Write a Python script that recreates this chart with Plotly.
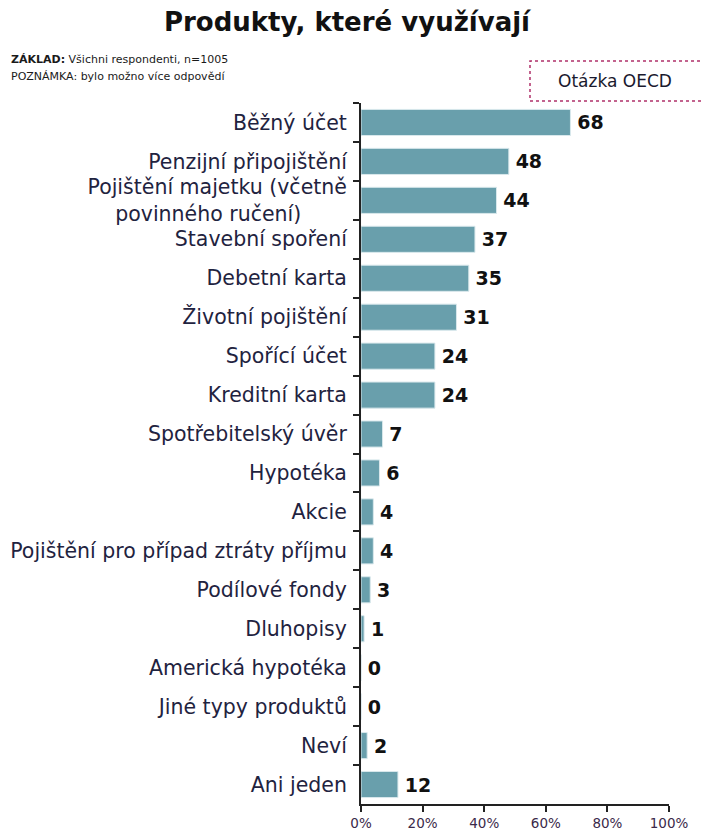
import plotly.graph_objects as go

# Products used by respondents (share in %, multiple answers allowed)
categories = [
    "Běžný účet",
    "Penzijní připojištění",
    "Pojištění majetku (včetně<br>\u00a0\u00a0\u00a0\u00a0\u00a0\u00a0\u00a0\u00a0povinného ručení)\u00a0\u00a0\u00a0\u00a0\u00a0\u00a0\u00a0",
    "Stavební spoření",
    "Debetní karta",
    "Životní pojištění",
    "Spořící účet",
    "Kreditní karta",
    "Spotřebitelský úvěr",
    "Hypotéka",
    "Akcie",
    "Pojištění pro případ ztráty příjmu",
    "Podílové fondy",
    "Dluhopisy",
    "Americká hypotéka",
    "Jiné typy produktů",
    "Neví",
    "Ani jeden",
]
values = [68, 48, 44, 37, 35, 31, 24, 24, 7, 6, 4, 4, 3, 1, 0, 0, 2, 12]
x_ticks = [0, 20, 40, 60, 80, 100]
x_tick_labels = ["0%", "20%", "40%", "60%", "80%", "100%"]

FONT = "DejaVu Sans, Verdana, sans-serif"
W, H = 701, 832
ML, MR, MT, MB = 361, 32, 103, 28
PW, PH = W - ML - MR, H - MT - MB


def px_x(px):
    return (px - ML) / PW


def px_y(py):
    return (H - MB - py) / PH


fig = go.Figure(
    go.Bar(
        x=values,
        y=categories,
        orientation="h",
        marker=dict(color="#699fac", line=dict(color="#d9e8ec", width=1)),
        text=["\u2009" + str(v) for v in values],
        textposition="outside",
        cliponaxis=False,
        textfont=dict(family=FONT, size=19, color="#111111", weight="bold"),
        hoverinfo="skip",
    )
)

fig.update_layout(
    width=W,
    height=H,
    margin=dict(l=ML, r=MR, t=MT, b=MB, autoexpand=False),
    paper_bgcolor="white",
    plot_bgcolor="white",
    showlegend=False,
    bargap=0.33,
    font=dict(family=FONT, color="#1a1a2e"),
    title=dict(
        text="<b>Produkty, které využívají</b>",
        x=0.495,
        xanchor="center",
        y=1 - 22 / H,
        yanchor="middle",
        font=dict(family=FONT, size=26, color="#111111"),
    ),
    xaxis=dict(
        range=[0, 100],
        tickvals=x_ticks,
        ticktext=x_tick_labels,
        showgrid=False,
        zeroline=False,
        showline=True,
        linecolor="#222222",
        linewidth=2,
        ticks="outside",
        ticklen=6,
        tickwidth=2,
        tickcolor="#222222",
        tickfont=dict(family=FONT, size=13.5, color="#3b2a4a"),
        ticklabelstandoff=0,
        automargin=False,
        fixedrange=True,
    ),
    yaxis=dict(
        autorange="reversed",
        showgrid=False,
        showline=True,
        linecolor="#222222",
        linewidth=2,
        ticks="outside",
        tickson="boundaries",
        ticklen=6,
        tickwidth=2,
        tickcolor="#222222",
        tickfont=dict(family=FONT, size=20.5, color="#1f2340"),
        ticklabelstandoff=8,
        automargin=False,
        fixedrange=True,
    ),
)

# Base / note lines
fig.add_annotation(
    text="<b>ZÁKLAD:</b> Všichni respondenti, n=1005",
    xref="paper", yref="paper", x=px_x(9), y=px_y(60),
    xanchor="left", yanchor="middle", showarrow=False,
    font=dict(family=FONT, size=11, color="#1a1a1a"),
)
fig.add_annotation(
    text="POZNÁMKA: bylo možno více odpovědí",
    xref="paper", yref="paper", x=px_x(9), y=px_y(77),
    xanchor="left", yanchor="middle", showarrow=False,
    font=dict(family=FONT, size=11, color="#1a1a1a"),
)

# OECD question box
fig.add_shape(
    type="rect",
    xref="paper", yref="paper",
    x0=px_x(530), x1=px_x(712), y0=px_y(101), y1=px_y(61),
    line=dict(color="#b0306a", width=1.5, dash="dot"),
    fillcolor="rgba(0,0,0,0)",
)
fig.add_annotation(
    text="Otázka OECD",
    xref="paper", yref="paper", x=px_x(615), y=px_y(81),
    xanchor="center", yanchor="middle", showarrow=False,
    font=dict(family=FONT, size=17, color="#1a1a2e"),
)

fig.write_html("out.html")
